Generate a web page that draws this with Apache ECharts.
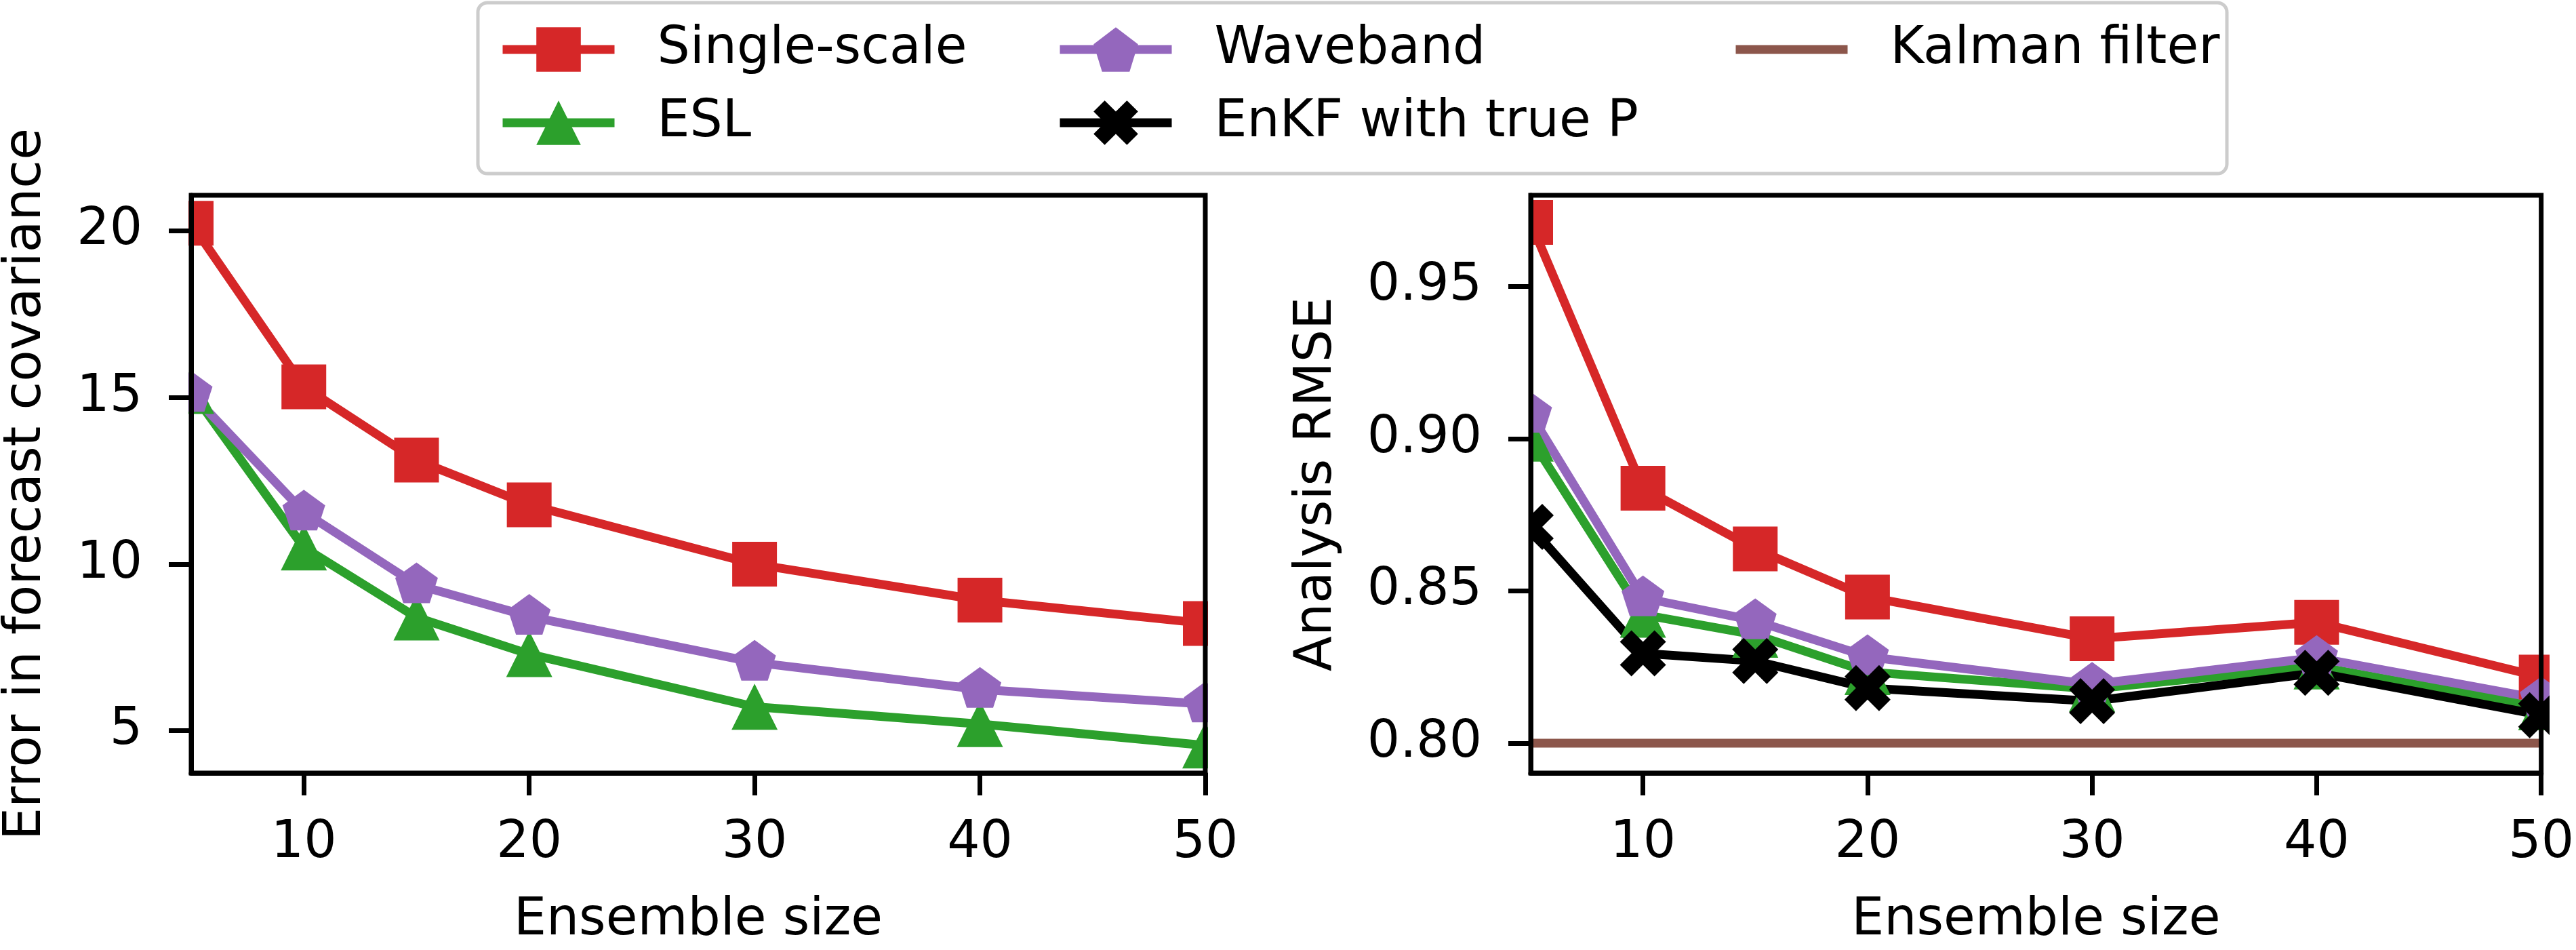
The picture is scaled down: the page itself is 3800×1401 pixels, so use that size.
<!DOCTYPE html>
<html><head><meta charset="utf-8">
<script src="https://cdn.jsdelivr.net/npm/echarts@6/dist/echarts.min.js"></script>
<style>html,body{margin:0;padding:0;background:#fff}#main{width:3800px;height:1401px}</style>
</head><body><div id="main"></div>
<script>
// ---- data ----
const ensembleSizes = [5, 10, 15, 20, 30, 40, 50];
const covSingleScale = [20.23, 15.32, 13.12, 11.78, 10.0, 8.92, 8.22];
const covESL = [15.2, 10.5, 8.4, 7.3, 5.72, 5.2, 4.56];
const covWaveband = [15.12, 11.56, 9.38, 8.43, 7.05, 6.24, 5.8];
const rmseSingleScale = [0.971, 0.8837, 0.8638, 0.848, 0.8343, 0.8397, 0.8217];
const rmseESL = [0.900, 0.8422, 0.8356, 0.8234, 0.8178, 0.8252, 0.8118];
const rmseWaveband = [0.908, 0.8477, 0.8402, 0.8284, 0.8193, 0.8281, 0.8145];
const rmseEnKF = [0.871, 0.8295, 0.827, 0.8181, 0.8138, 0.8231, 0.8092];
const rmseKalman = [0.80, 0.80, 0.80, 0.80, 0.80, 0.80, 0.80];
const xTicks = [10, 20, 30, 40, 50];
const covTicks = [5, 10, 15, 20];
const rmseTicks = [0.80, 0.85, 0.90, 0.95];

const C = {red:'#d62728', green:'#2ca02c', purple:'#9467bd', black:'#000000', brown:'#8c564b'};
const PENT = 'path://M0,-1L0.951,-0.309L0.588,0.809L-0.588,0.809L-0.951,-0.309Z';
const XFILL = 'path://M1,0L2,1L3,0L4,1L3,2L4,3L3,4L2,3L1,4L0,3L1,2L0,1Z';
const FONT = 'DejaVu Sans';
const FS = 76;

function pts(ys){ return ensembleSizes.map((x,i)=>[x, ys[i]]); }
function ser(name, ys, color, symbol, size, gi, extra){
  return Object.assign({
    name, type:'line', data: pts(ys), xAxisIndex: gi, yAxisIndex: gi,
    symbol, symbolSize: size, showSymbol: symbol !== 'none',
    lineStyle:{color, width:13}, itemStyle:{color, opacity:1},
    emphasis:{disabled:true}, animation:false, clip:true
  }, extra||{});
}
function xAxis(gi){
  return {type:'value', gridIndex: gi, min:5, max:50, z:10,
    name:'Ensemble size', nameLocation:'middle', nameGap:180,
    nameTextStyle:{fontSize:FS, color:'#000', fontFamily:FONT},
    axisLine:{show:true, onZero:false, lineStyle:{color:'#000', width:7}},
    axisTick:{show:true, customValues:xTicks, length:33, lineStyle:{color:'#000', width:7}},
    axisLabel:{customValues:xTicks, margin:66, fontSize:FS, color:'#000', fontFamily:FONT},
    splitLine:{show:false}};
}
function yAxis(gi, name, gap, min, max, ticks, fmt){
  return {type:'value', gridIndex: gi, min, max, z:10,
    name, nameLocation:'middle', nameGap:gap, nameRotate:90,
    nameTextStyle:{fontSize:FS, color:'#000', fontFamily:FONT},
    axisLine:{show:true, onZero:false, lineStyle:{color:'#000', width:7}},
    axisTick:{show:true, customValues:ticks, length:33, lineStyle:{color:'#000', width:7}},
    axisLabel:{customValues:ticks, margin:72, fontSize:FS, color:'#000', fontFamily:FONT, formatter:fmt},
    splitLine:{show:false}};
}
function legend(left, data){
  return {orient:'vertical', left, top:30, itemWidth:165, itemHeight:82, itemGap:32,
    selectedMode:false, data, z:4,
    lineStyle:{width:13},
    textStyle:{fontSize:FS, color:'#000', fontFamily:FONT, padding:[0,0,0,58]}};
}
function cover(x, w){
  return {type:'rect', z:5, silent:true, shape:{x, y:262, width:w, height:940}, style:{fill:'#fff'}};
}

const option = {
  backgroundColor:'#fff',
  animation:false,
  textStyle:{fontFamily:FONT},
  grid:[
    {left:280, top:288, width:1498, height:875, show:true, borderColor:'#000', borderWidth:7, backgroundColor:'transparent', z:10},
    {left:2258, top:288, width:1499, height:875, show:true, borderColor:'#000', borderWidth:7, backgroundColor:'transparent', z:10}
  ],
  xAxis:[xAxis(0), xAxis(1)],
  yAxis:[
    yAxis(0, 'Error in forecast covariance', 205, 3.73, 21.07, covTicks, v=>String(v)),
    yAxis(1, 'Analysis RMSE', 277, 0.7902, 0.9799, rmseTicks, v=>Number(v).toFixed(2))
  ],
  legend:[
    legend(730, ['Single-scale','ESL']),
    legend(1552, ['Waveband','EnKF with true P']),
    legend(2549, [{name:'Kalman filter', itemStyle:{opacity:0}}])
  ],
  graphic:{elements:[
    {type:'rect', z:1, silent:true, shape:{x:705, y:4, width:2580, height:252, r:14},
     style:{fill:'#fff', stroke:'#cccccc', lineWidth:5}},
    cover(222, 56), cover(1782, 50), cover(2203, 53), cover(3761, 45)
  ]},
  series:[
    ser('Single-scale', covSingleScale, C.red, 'rect', 66, 0),
    ser('ESL', covESL, C.green, 'triangle', 68, 0),
    ser('Waveband', covWaveband, C.purple, PENT, [63,60], 0, {symbolOffset:[0,-3]}),
    ser('Single-scale', rmseSingleScale, C.red, 'rect', 66, 1),
    ser('ESL', rmseESL, C.green, 'triangle', 68, 1),
    ser('Waveband', rmseWaveband, C.purple, PENT, [63,60], 1, {symbolOffset:[0,-3]}),
    ser('EnKF with true P', rmseEnKF, C.black, XFILL, 68, 1),
    ser('Kalman filter', rmseKalman, C.brown, 'none', 0, 1)
  ]
};
const chart = echarts.init(document.getElementById('main'), null, {renderer:'canvas'});
chart.setOption(option);
</script></body></html>
